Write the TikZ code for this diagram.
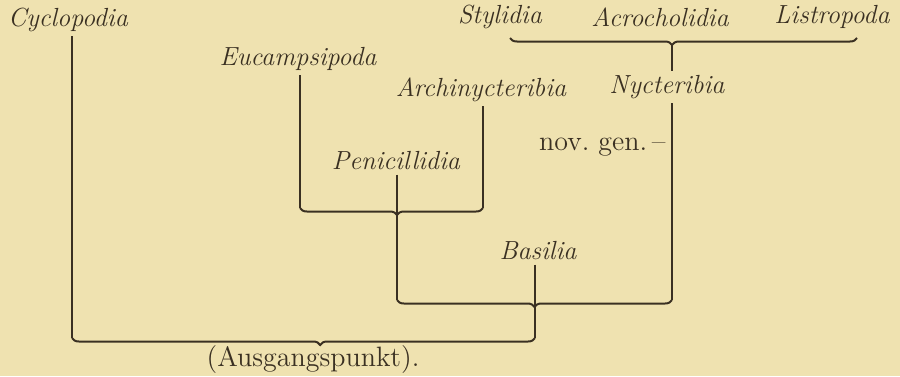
\documentclass[tikz,border=0pt]{standalone}
\usetikzlibrary{decorations.pathreplacing}
\definecolor{Papier}{HTML}{EFE2B0}
\definecolor{Tinte}{HTML}{3A3022}

\begin{document}
\begin{tikzpicture}[
  x=0.5pt, y=-0.5pt,
  taxon/.style={font=\fontsize{13.1}{15}\selectfont\itshape, text=Tinte, inner sep=2pt},
  note/.style={font=\fontsize{14}{16}\selectfont, text=Tinte, inner sep=1pt},
  stem/.style={draw=Tinte, line width=1pt},
  klammer/.style={stem, decorate, decoration={brace, mirror, amplitude=3.5pt, aspect=#1}}
]
\fill[Papier] (0,0) rectangle (900,376);
\useasboundingbox (0,0) rectangle (900,376);

% Gattungen
\node[taxon] (cyclo) at (68,20) {Cyclopodia};
\node[taxon] (eucamp) at (298,59) {Eucampsipoda};
\node[taxon] (archi) at (481,90) {Archinycteribia};
\node[taxon] (peni) at (396,161) {Penicillidia};
\node[taxon] (basil) at (538,251) {Basilia};
\node[taxon] (nyct) at (667,87) {Nycteribia};
\node[taxon] (styl) at (500,17) {Stylidia};
\node[taxon] (acro) at (660,17) {Acrocholidia};
\node[taxon] (listro) at (832,17) {Listropoda};
\node[note, anchor=east] (novgen) at (668,147) {nov.\ gen.\,--};
\node[note] (ausgang) at (313,360) {(Ausgangspunkt).};

% Klammern
\coordinate (tl) at (510,38);
\coordinate (tr) at (857,38);
\coordinate (tm) at (672,45);
\coordinate (pl) at (300,208);
\coordinate (pr) at (483,208);
\coordinate (pm) at (397,215);
\coordinate (bl) at (397,300);
\coordinate (br) at (672,300);
\coordinate (bm) at (535,307);
\coordinate (al) at (72,338);
\coordinate (ar) at (535,338);
\coordinate (am) at (320,345);

\draw[klammer=0.467] (tl) -- (tr);
\draw[klammer=0.53] (pl) -- (pr);
\draw[klammer=0.5] (bl) -- (br);
\draw[klammer=0.536] (al) -- (ar);

% Staemme
\draw[stem] (cyclo.south -| al) -- (al);
\draw[stem] (eucamp.south -| pl) -- (pl);
\draw[stem] (archi.south -| pr) -- (pr);
\draw[stem] (peni.south -| pm) -- (pm) -- (bl);
\draw[stem] (tm) -- (nyct.north -| tm);
\draw[stem] (nyct.south -| br) -- (br);
\draw[stem] (basil.south -| bm) -- (bm) -- (ar);
\end{tikzpicture}
\end{document}
